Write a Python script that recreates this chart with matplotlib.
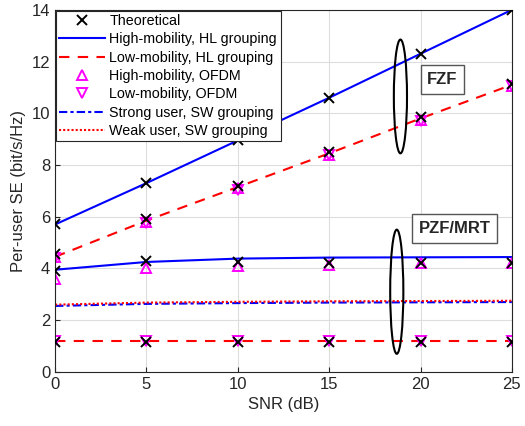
import numpy as np
import matplotlib.pyplot as plt
from matplotlib.patches import Ellipse

plt.rcParams['font.family'] = ['Liberation Sans', 'DejaVu Sans']

snr = [0, 5, 10, 15, 20, 25]

# FZF
fzf_high_hl = [5.7, 7.3, 8.95, 10.6, 12.3, 14.0]
fzf_low_hl = [4.45, 5.85, 7.15, 8.45, 9.8, 11.1]
fzf_theo_high = [5.7, 7.3, 8.95, 10.6, 12.3, 14.0]
fzf_theo_low = [4.55, 5.9, 7.2, 8.5, 9.85, 11.15]
fzf_high_ofdm = [4.45, 5.8, 7.1, 8.4, 9.75, 11.05]
fzf_low_ofdm = [4.4, 5.75, 7.05, 8.4, 9.7, 11.05]

# PZF/MRT
pzf_high_hl = [3.95, 4.25, 4.38, 4.42, 4.43, 4.44]
pzf_low_hl = [1.2, 1.2, 1.2, 1.2, 1.2, 1.2]
pzf_theo_high = [3.9, 4.3, 4.25, 4.2, 4.2, 4.2]
pzf_theo_low = [1.15, 1.15, 1.15, 1.15, 1.15, 1.15]
pzf_high_ofdm = [3.6, 4.0, 4.1, 4.15, 4.2, 4.2]
pzf_low_ofdm = [1.2, 1.2, 1.2, 1.2, 1.2, 1.2]
strong_sw = [2.55, 2.63, 2.66, 2.68, 2.69, 2.7]
weak_sw = [2.6, 2.68, 2.71, 2.73, 2.74, 2.75]

fig = plt.figure(figsize=(5.25, 4.26), dpi=100)
ax = fig.add_axes([0.105, 0.127, 0.87, 0.85])

mk = dict(ms=6.5, mew=1.4)
ax.plot(snr, fzf_theo_high, 'x', color='black', label='Theoretical', zorder=5, **mk)
ax.plot(snr, fzf_high_hl, '-', color='#0000ff', lw=1.5, label='High-mobility, HL grouping')
ax.plot(snr, fzf_low_hl, '--', color='#ff0000', lw=1.5, dashes=(5, 4), label='Low-mobility, HL grouping')
ax.plot(snr, fzf_high_ofdm, '^', color='#ff00ff', mfc='none', label='High-mobility, OFDM', **mk)
ax.plot(snr, fzf_low_ofdm, 'v', color='#ff00ff', mfc='none', label='Low-mobility, OFDM', **mk)
ax.plot(snr, strong_sw, '-.', color='#0000ff', lw=1.5, dashes=(4, 1.5, 1.5, 1.5), label='Strong user, SW grouping')
ax.plot(snr, weak_sw, ':', color='#ff0000', lw=1.5, dashes=(1, 1), label='Weak user, SW grouping')

ax.plot(snr, fzf_theo_low, 'x', color='black', zorder=5, **mk)
ax.plot(snr, pzf_high_hl, '-', color='#0000ff', lw=1.5)
ax.plot(snr, pzf_low_hl, '--', color='#ff0000', lw=1.5, dashes=(5, 4))
ax.plot(snr, pzf_theo_high, 'x', color='black', zorder=5, **mk)
ax.plot(snr, pzf_theo_low, 'x', color='black', zorder=5, **mk)
ax.plot(snr, pzf_high_ofdm, '^', color='#ff00ff', mfc='none', **mk)
ax.plot(snr, pzf_low_ofdm, 'v', color='#ff00ff', mfc='none', **mk)

ax.add_patch(Ellipse((18.9, 10.65), 0.72, 4.4, fill=False, ec='black', lw=1.5, zorder=6))
ax.add_patch(Ellipse((18.7, 3.1), 0.72, 4.8, fill=False, ec='black', lw=1.5, zorder=6))
ax.text(21.2, 11.3, 'FZF', fontsize=12, fontweight='bold', ha='center', va='center', color='#262626',
        bbox=dict(boxstyle='square,pad=0.4', fc='white', ec='#555555'))
ax.text(21.85, 5.55, 'PZF/MRT', fontsize=12, fontweight='bold', ha='center', va='center', color='#262626',
        bbox=dict(boxstyle='square,pad=0.4', fc='white', ec='#555555'))

ax.set_xlim(0, 25)
ax.set_ylim(0, 14)
ax.set_xticks(snr)
ax.set_yticks(range(0, 15, 2))
ax.grid(True, color='#dddddd', lw=0.8)
ax.set_axisbelow(True)
ax.tick_params(labelsize=12, direction='in', colors='#262626')
for s in ax.spines.values():
    s.set_color('#262626')
ax.set_xlabel('SNR (dB)', fontsize=12, color='#262626')
ax.set_ylabel('Per-user SE (bit/s/Hz)', fontsize=12, color='#262626')

leg = ax.legend(loc='upper left', fontsize=10.3, numpoints=1, handlelength=3.2, handletextpad=0.3,
                borderpad=0.25, labelspacing=0.3, fancybox=False, framealpha=1,
                edgecolor='#262626', borderaxespad=0.05)
leg.get_frame().set_linewidth(0.8)

fig.savefig('out.png', dpi=100)
